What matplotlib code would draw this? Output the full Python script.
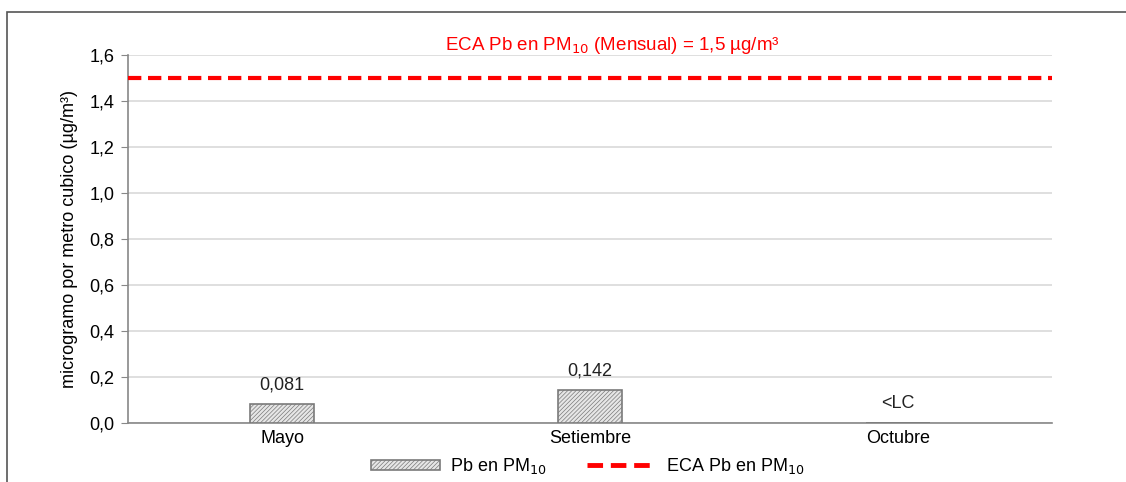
import matplotlib.pyplot as plt
import matplotlib.patches as mpatches
from matplotlib.lines import Line2D
import numpy as np

plt.rcParams['font.family'] = ['Liberation Sans', 'DejaVu Sans']
plt.rcParams['hatch.color'] = '#a0a0a0'
plt.rcParams['hatch.linewidth'] = 0.5

# Data
months = ['Mayo', 'Setiembre', 'Octubre']
pb_values = [0.081, 0.142, np.nan]
pb_labels = ['0,081', '0,142', '<LC']
eca_limit = 1.5
yticks = [0.0, 0.2, 0.4, 0.6, 0.8, 1.0, 1.2, 1.4, 1.6]

FS = 13

fig = plt.figure(figsize=(11.26, 4.82), dpi=100)
ax = fig.add_axes([0.1137, 0.1224, 0.8206, 0.7635])

# outer frame of the chart
fig.patches.append(mpatches.Rectangle((0.0062, -0.05), 1.1, 1.025, transform=fig.transFigure,
                                      fill=False, edgecolor='#555555', linewidth=1.2))

x = np.arange(len(months))
heights = np.nan_to_num(pb_values)
ax.bar(x, heights, width=0.205, facecolor='#e6e6e6', edgecolor='#7a7a7a',
       linewidth=1.2, hatch='////////', zorder=3)

# value labels above the bars
for xi, h, lab in zip(x, heights, pb_labels):
    ax.annotate(lab, (xi, h), xycoords='data', textcoords='offset points',
                xytext=(0, 8), ha='center', va='bottom', fontsize=FS, color='#222222')

ax.axhline(eca_limit, color='#ff0000', linestyle=(0, (3.2, 1.6)), linewidth=3, zorder=4)
ax.text(0.524, 0.997, 'ECA Pb en PM$_{10}$ (Mensual) = 1,5 µg/m³', transform=ax.transAxes,
        ha='center', va='bottom', color='#ff0000', fontsize=13.5)

ax.set_xlim(-0.5, 2.5)
ax.set_ylim(0, 1.6)
ax.set_yticks(yticks)
ax.set_yticklabels([f'{v:.1f}'.replace('.', ',') for v in yticks], fontsize=FS)
ax.set_xticks(x)
ax.set_xticklabels(months, fontsize=FS)
ax.tick_params(axis='x', length=0, pad=5)
ax.tick_params(axis='y', length=5, color='#888888', pad=5)
ax.set_ylabel('microgramo por metro cubico (µg/m³)', fontsize=FS, labelpad=8)

ax.grid(axis='y', color='#d9d9d9', linewidth=1.2, zorder=0)
ax.set_axisbelow(True)
for side in ['top', 'right']:
    ax.spines[side].set_visible(False)
ax.spines['left'].set_color('#888888')
ax.spines['bottom'].set_color('#888888')
ax.spines['left'].set_linewidth(1.2)
ax.spines['bottom'].set_linewidth(1.2)

handles = [mpatches.Patch(facecolor='#e6e6e6', edgecolor='#7a7a7a', hatch='////////', linewidth=1.2),
           Line2D([0], [0], color='#ff0000', linestyle=(0, (3.2, 1.6)), linewidth=3.5)]
fig.legend(handles, ['Pb en PM$_{10}$', 'ECA Pb en PM$_{10}$'], loc='center',
           bbox_to_anchor=(0.522, 0.033), ncol=2, frameon=False, fontsize=FS,
           handlelength=3.8, handleheight=0.5, columnspacing=2.2, handletextpad=0.6)

fig.savefig('out.png', dpi=100)
